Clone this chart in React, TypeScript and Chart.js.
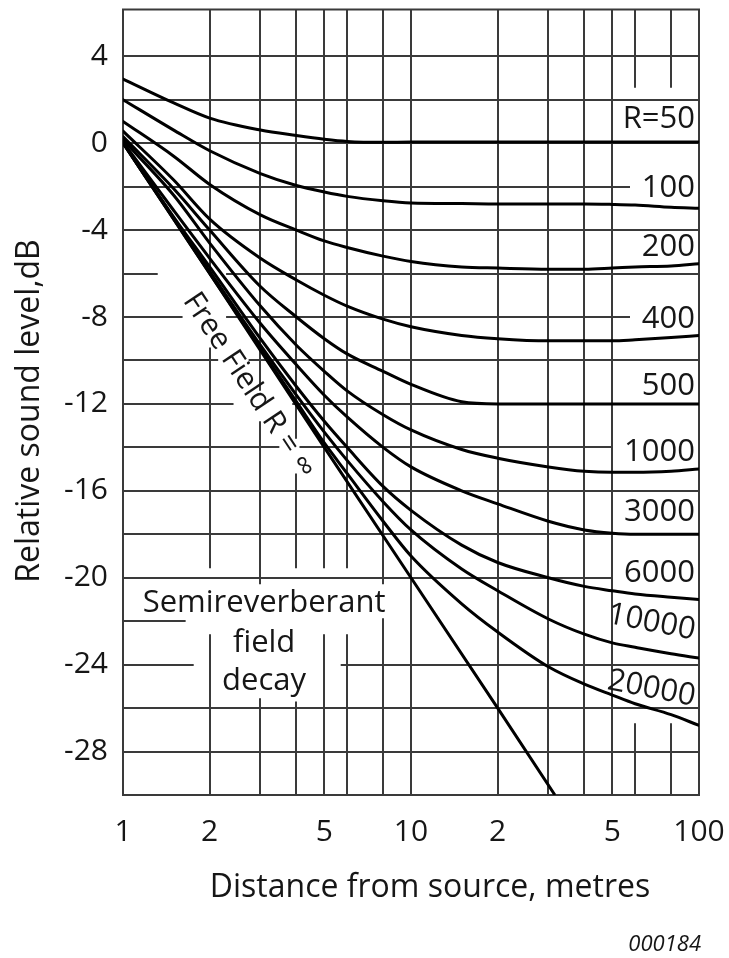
import React, { useEffect, useRef } from "react";
import { Chart, registerables } from "chart.js";

Chart.register(...registerables);

// Distances (m) at which each room-constant curve is tabulated
const distances = [1, 1.5, 2, 3, 4, 5, 6, 8, 10, 15, 20, 30, 40, 50, 60, 80, 100];

// Relative sound level (dB) for each room constant R
const levelR50 = [2.95, 1.85, 1.15, 0.6, 0.35, 0.18, 0.08, 0.04, 0.05, 0.05, 0.05, 0.05, 0.05, 0.05, 0.05, 0.05, 0.05];
const levelR100 = [2.0, 0.6, -0.35, -1.4, -1.95, -2.25, -2.45, -2.65, -2.75, -2.78, -2.8, -2.8, -2.8, -2.82, -2.85, -2.95, -3.0];
const levelR200 = [1.0, -0.6, -1.9, -3.3, -4.0, -4.5, -4.8, -5.2, -5.45, -5.7, -5.75, -5.8, -5.8, -5.75, -5.7, -5.65, -5.55];
const levelR400 = [0.55, -1.7, -3.5, -5.3, -6.3, -7.0, -7.5, -8.1, -8.45, -8.85, -9.0, -9.1, -9.1, -9.1, -9.05, -8.95, -8.85];
const levelR500 = [0.3, -2.1, -4.0, -6.6, -8.0, -9.0, -9.7, -10.5, -11.1, -11.9, -12.0, -12.0, -12.0, -12.0, -12.0, -12.0, -12.0];
const levelR1000 = [0.15, -2.4, -4.6, -7.5, -9.3, -10.5, -11.4, -12.5, -13.2, -14.1, -14.5, -14.9, -15.1, -15.15, -15.15, -15.1, -15.0];
const levelR3000 = [0.05, -3.1, -5.3, -8.3, -10.2, -11.6, -12.6, -14.0, -14.9, -16.0, -16.6, -17.4, -17.8, -17.95, -18.0, -18.0, -18.0];
const levelR6000 = [0.03, -3.4, -5.7, -9.0, -11.2, -12.8, -14.0, -15.8, -16.9, -18.5, -19.3, -20.0, -20.4, -20.6, -20.75, -20.9, -21.0];
const levelR10000 = [0.02, -3.45, -5.9, -9.3, -11.6, -13.3, -14.6, -16.5, -17.8, -19.6, -20.6, -21.9, -22.6, -23.0, -23.2, -23.5, -23.7];
const levelR20000 = [0.01, -3.5, -6.0, -9.45, -11.9, -13.8, -15.2, -17.4, -19.0, -21.2, -22.5, -24.1, -24.9, -25.4, -25.8, -26.3, -26.8];

// Free field (R = infinity): inverse-square decay
const freeFieldDistances = [1, 2, 5, 10, 20, 31.6];
const freeFieldLevels = [0, -6.0, -14.0, -20.0, -26.0, -30.0];

const roomConstantLabels = ["R=50", "100", "200", "400", "500", "1000", "3000", "6000", "10000", "20000"];
const curveLevels = [levelR50, levelR100, levelR200, levelR400, levelR500, levelR1000, levelR3000, levelR6000, levelR10000, levelR20000];

const xTickValues = [1, 2, 5, 10, 20, 50, 100];
const xTickLabels = ["1", "2", "5", "10", "2", "5", "100"];
const yTickValues = [4, 0, -4, -8, -12, -16, -20, -24, -28];

const gridDistances = [2, 3, 4, 5, 6, 8, 10, 20, 30, 40, 50, 60, 80];
const gridLevels = [4, 2, 0, -2, -4, -6, -8, -10, -12, -14, -16, -18, -20, -22, -24, -26, -28];

// Interruptions of the ruled grid where text sits (data units)
const levelLineGaps: Record<string, [number, number][]> = {
  "-2": [[57.6, 100]],
  "-6": [[1.32, 2.28]],
  "-8": [[1.61, 2.28], [57.6, 100]],
  "-10": [[2.14, 2.73]],
  "-12": [[2.42, 3.87]],
  "-14": [[3.49, 4.1], [50, 100]],
  "-20": [[50, 100]],
  "-22": [[1.65, 100]],
  "-24": [[1.76, 5.7]],
};
const distanceLineGaps: Record<string, [number, number][]> = {
  "2": [[-6.1, -9.4], [-19.56, -22.6]],
  "3": [[-11.4, -12.8], [-20.3, -25.55]],
  "4": [[-13.6, -15.2], [-19.56, -25.7]],
  "5": [[-19.56, -22.6]],
  "6": [[-19.56, -22.6]],
  "8": [[-20.3, -21.87]],
  "60": [[2.55, -26.7]],
  "80": [[2.55, -26.7]],
};

// Annotation placement
const labelLayout = {
  rightInset: 4,
  levels: [1.08, -2.05, -4.8, -8.1, -11.2, -14.2, -17.0, -19.8, -22.45, -25.5],
  tiltDeg: [0, 0, 0, 0, 0, 0, 0, 0, 11, 11],
  freeField: { distance: 2.74, level: -11.15 },
  semireverberant: { distance: 3.09, levels: [-21.6, -23.4, -25.15] },
};
const semireverberantLines = ["Semireverberant", "field", "decay"];
const freeFieldText = "Free Field R = \u221e";
const xTitle = "Distance from source, metres";
const yTitle = "Relative sound level,dB";
const figureCode = "000184";

const FONT = "'Open Sans', 'Noto Sans', 'DejaVu Sans', sans-serif";
const INK = "#161616";
const GRID = "#3a3a3a";

function addSegments(
  ctx: CanvasRenderingContext2D,
  from: number,
  to: number,
  gaps: number[][],
  pt: (p: number) => [number, number]
) {
  const sorted = gaps.map(([a, b]) => [Math.min(a, b), Math.max(a, b)]).sort((p, q) => p[0] - q[0]);
  let cur = from;
  for (const [g0, g1] of sorted) {
    if (g0 > cur) {
      const e = Math.min(g0, to);
      ctx.moveTo(...pt(cur));
      ctx.lineTo(...pt(e));
    }
    cur = Math.max(cur, g1);
  }
  if (cur < to) {
    ctx.moveTo(...pt(cur));
    ctx.lineTo(...pt(to));
  }
}

const paperGrid = {
  id: "paperGrid",
  beforeDatasetsDraw(chart: any) {
    const { ctx, chartArea: area, scales } = chart;
    const xs = scales.x;
    const ys = scales.y;
    ctx.save();
    ctx.strokeStyle = GRID;
    ctx.lineWidth = 2;
    ctx.beginPath();
    for (const level of gridLevels) {
      const py = Math.round(ys.getPixelForValue(level));
      const gaps = (levelLineGaps[String(level)] || []).map(([a, b]) => [xs.getPixelForValue(a), xs.getPixelForValue(b)]);
      addSegments(ctx, area.left, area.right, gaps, (p) => [p, py]);
    }
    for (const d of gridDistances) {
      const px = Math.round(xs.getPixelForValue(d));
      const gaps = (distanceLineGaps[String(d)] || []).map(([a, b]) => [ys.getPixelForValue(a), ys.getPixelForValue(b)]);
      addSegments(ctx, area.top, area.bottom, gaps, (p) => [px, p]);
    }
    ctx.stroke();
    ctx.strokeRect(area.left, area.top, area.right - area.left, area.bottom - area.top);
    ctx.restore();
  },
};

const annotations = {
  id: "annotations",
  afterDatasetsDraw(chart: any) {
    const { ctx, chartArea: area, scales } = chart;
    const xs = scales.x;
    const ys = scales.y;
    ctx.save();
    ctx.fillStyle = INK;

    // room-constant labels along the right edge
    ctx.font = `31px ${FONT}`;
    ctx.textAlign = "right";
    ctx.textBaseline = "middle";
    roomConstantLabels.forEach((t, i) => {
      ctx.save();
      ctx.translate(area.right - labelLayout.rightInset, ys.getPixelForValue(labelLayout.levels[i]));
      ctx.rotate((labelLayout.tiltDeg[i] * Math.PI) / 180);
      ctx.fillText(t, 0, 0);
      ctx.restore();
    });

    // free-field label, parallel to the inverse-square line
    const a0x = xs.getPixelForValue(1);
    const a0y = ys.getPixelForValue(0);
    const a1x = xs.getPixelForValue(10);
    const a1y = ys.getPixelForValue(-20);
    const ang = Math.atan2(a1y - a0y, a1x - a0x);
    ctx.save();
    ctx.translate(xs.getPixelForValue(labelLayout.freeField.distance), ys.getPixelForValue(labelLayout.freeField.level));
    ctx.rotate(ang);
    ctx.font = `30px ${FONT}`;
    ctx.textAlign = "center";
    ctx.textBaseline = "middle";
    ctx.fillText(freeFieldText, 0, 0);
    ctx.restore();

    // semireverberant note
    ctx.font = `31px ${FONT}`;
    ctx.textAlign = "center";
    ctx.textBaseline = "alphabetic";
    const sx = xs.getPixelForValue(labelLayout.semireverberant.distance);
    semireverberantLines.forEach((t, i) => {
      ctx.fillText(t, sx, ys.getPixelForValue(labelLayout.semireverberant.levels[i]));
    });

    // axis titles
    ctx.font = `32px ${FONT}`;
    ctx.textAlign = "center";
    ctx.textBaseline = "middle";
    ctx.fillText(xTitle, 430, 888);
    ctx.save();
    ctx.translate(30, 411);
    ctx.rotate(-Math.PI / 2);
    ctx.fillText(yTitle, 0, 0);
    ctx.restore();

    // figure reference
    ctx.font = `italic 22px ${FONT}`;
    ctx.textAlign = "right";
    ctx.textBaseline = "alphabetic";
    ctx.fillText(figureCode, 701, 951);
    ctx.restore();
  },
};

export default function App() {
  const ref = useRef<HTMLCanvasElement>(null);

  useEffect(() => {
    const canvas = ref.current;
    if (!canvas) return;

    const datasets: any[] = curveLevels.map((levels, i) => ({
      label: roomConstantLabels[i],
      data: distances.map((d, j) => ({ x: d, y: levels[j] })),
      borderColor: "#000",
      borderWidth: 3,
      pointRadius: 0,
      fill: false,
      cubicInterpolationMode: "monotone",
      borderJoinStyle: "round",
      borderCapStyle: "round",
    }));
    datasets.push({
      label: "Free field",
      data: freeFieldDistances.map((d, j) => ({ x: d, y: freeFieldLevels[j] })),
      borderColor: "#000",
      borderWidth: 3,
      pointRadius: 0,
      fill: false,
      tension: 0,
    });

    const chart = new Chart(canvas, {
      type: "line",
      data: { datasets },
      options: {
        responsive: false,
        animation: false,
        devicePixelRatio: 1,
        layout: { padding: { left: 0, right: 30, top: 9.5, bottom: 0 } },
        plugins: { legend: { display: false }, tooltip: { enabled: false } },
        scales: {
          x: {
            type: "logarithmic",
            min: 1,
            max: 100,
            grid: { display: false, drawTicks: false },
            border: { display: false },
            afterBuildTicks: (s: any) => {
              s.ticks = xTickValues.map((v) => ({ value: v }));
            },
            ticks: {
              autoSkip: false,
              maxRotation: 0,
              padding: 19,
              color: INK,
              font: { family: FONT, size: 30 },
              callback: (_v: any, i: number) => xTickLabels[i],
            },
            afterFit: (s: any) => {
              s.height = 163;
              s.paddingLeft = 0;
              s.paddingRight = 0;
              s.paddingTop = 0;
              s.paddingBottom = 0;
            },
          },
          y: {
            type: "linear",
            min: -30,
            max: 6.15,
            grid: { display: false, drawTicks: false },
            border: { display: false },
            afterBuildTicks: (s: any) => {
              s.ticks = yTickValues.map((v) => ({ value: v }));
            },
            ticks: {
              padding: 15,
              color: INK,
              font: { family: FONT, size: 30 },
              callback: (v: any) => String(v),
            },
            afterFit: (s: any) => {
              s.width = 123;
              s.paddingLeft = 0;
              s.paddingRight = 0;
              s.paddingTop = 0;
              s.paddingBottom = 0;
            },
          },
        },
      },
      plugins: [paperGrid, annotations],
    } as any);

    return () => chart.destroy();
  }, []);

  return (
    <div style={{ position: "absolute", left: 0, top: 0, width: 729, height: 958, background: "#fff" }}>
      <canvas ref={ref} width={729} height={958} style={{ display: "block", width: 729, height: 958 }} />
    </div>
  );
}
